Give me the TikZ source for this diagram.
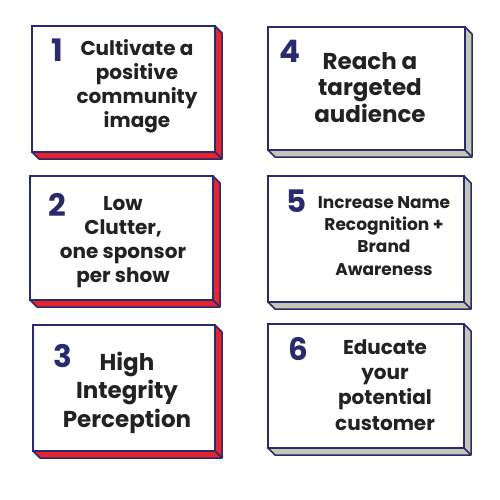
\documentclass[tikz,border=0pt]{standalone}
\usepackage{fontspec}
\setmainfont{Poppins}[BoldFont={* Bold}]
\usetikzlibrary{backgrounds}
\definecolor{navy}{HTML}{2A2A6E}
\definecolor{sidered}{HTML}{E5242E}
\definecolor{sidegrey}{HTML}{C5C8B5}
\definecolor{ink}{HTML}{222222}
\tikzset{
  card/.style={draw=navy, line width=2pt, fill=white, inner sep=0pt, outer sep=0pt},
  num/.style={text=navy, font=\bfseries\fontsize{31}{31}\selectfont, inner sep=0pt, anchor=base},
  lbl/.style={text=ink, align=center, inner sep=0pt, anchor=base},
  side/.style={draw=navy, line width=1.5pt, line join=round}
}
\newcommand{\cardside}[2]{%
  \fill[#2, side] (#1.south west) -- ([shift={(7pt,-7pt)}]#1.south west) -- ([shift={(7pt,-7pt)}]#1.south east) -- ([shift={(7pt,-7pt)}]#1.north east) -- (#1.north east) -- cycle;
  \draw[side] (#1.south east) -- ([shift={(7pt,-7pt)}]#1.south east);}
\begin{document}
\begin{tikzpicture}[x=1pt,y=-1pt]
\useasboundingbox (0,0) rectangle (500,500);
% cards: left,top,right,bottom
\node[card, minimum width=183pt, minimum height=126pt] (c1) at (123.5,89) {};
\node[card, minimum width=183pt, minimum height=124pt] (c2) at (121.5,238) {};
\node[card, minimum width=182pt, minimum height=126pt] (c3) at (124,388) {};
\node[card, minimum width=197pt, minimum height=123pt] (c4) at (366.5,88.5) {};
\node[card, minimum width=196pt, minimum height=126pt] (c5) at (366,239) {};
\node[card, minimum width=196pt, minimum height=124pt] (c6) at (366,386) {};
\begin{scope}[on background layer]
\fill[white] (0,0) rectangle (500,500);
\cardside{c1}{sidered}
\cardside{c2}{sidered}
\cardside{c3}{sidered}
\cardside{c4}{sidegrey}
\cardside{c5}{sidegrey}
\cardside{c6}{sidegrey}
\end{scope}
% numbers
\node[num] (n1) at (57,62) {1};
\node[num] (n2) at (57.5,216) {2};
\node[num] (n3) at (62.5,367) {3};
\node[num] (n4) at (290,63) {4};
\node[num] (n5) at (296.5,212) {5};
\node[num] (n6) at (298,360) {6};
% labels (anchored at the baseline of the last line)
\node[lbl, font=\bfseries\fontsize{20}{24}\selectfont] (t1) at (137,128) {Cultivate a\\positive\\community\\image};
\node[lbl, font=\bfseries\fontsize{20}{23.7}\selectfont] (t2) at (123,282) {Low\\Clutter,\\one sponsor\\per show};
\node[lbl, font=\bfseries\fontsize{23}{28.5}\selectfont] (t3) at (127,427) {High\\Integrity\\Perception};
\node[lbl, font=\bfseries\fontsize{23}{26.5}\selectfont] (t4) at (370,122) {Reach a\\targeted\\audience};
\node[lbl, font=\bfseries\fontsize{17}{22.3}\selectfont] (t5) at (384,275) {Increase Name\\Recognition +\\Brand\\Awareness};
\node[lbl, font=\bfseries\fontsize{20}{25.3}\selectfont] (t6) at (385,430) {Educate\\your\\potential\\customer};
\end{tikzpicture}
\end{document}
